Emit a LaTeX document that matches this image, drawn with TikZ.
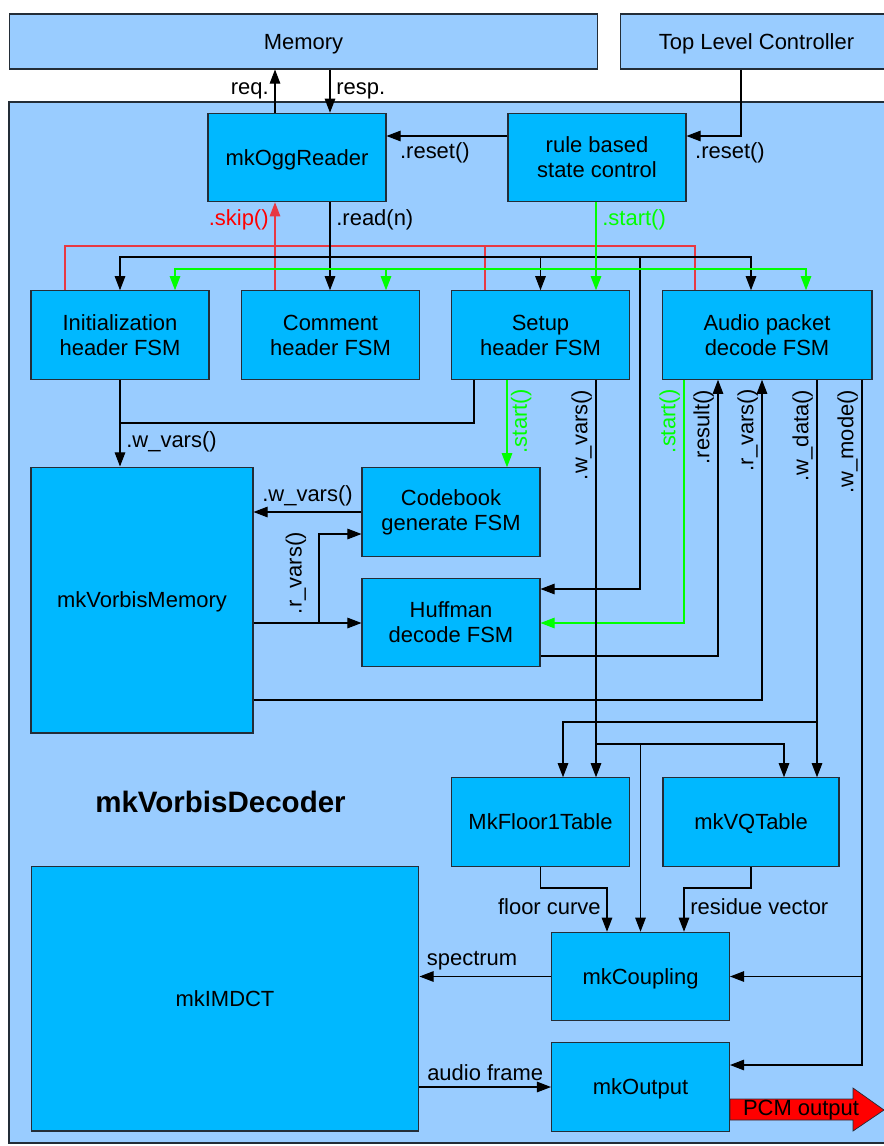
\documentclass[tikz,border=0pt]{standalone}
\usepackage{fontspec}
\setmainfont{Liberation Sans}
\usetikzlibrary{arrows.meta}

\definecolor{outerblue}{RGB}{153,204,255}
\definecolor{fsmblue}{RGB}{0,184,255}
\definecolor{skipred}{RGB}{232,56,66}
\definecolor{startgreen}{RGB}{0,255,0}
\definecolor{edge}{RGB}{35,45,55}
\definecolor{pcmred}{RGB}{255,0,0}

\begin{document}
\begin{tikzpicture}[x=0.02cm, y=-0.02cm,
    font=\fontsize{12.5}{14.2}\selectfont,
    blk/.style={draw=edge, fill=fsmblue, line width=0.6pt, align=center, inner sep=0pt},
    fsm/.style={blk, minimum width=3.56cm, minimum height=1.77cm},
    oneline/.style={text depth=0pt},
    wire/.style={line width=0.6pt},
    arr/.style={wire, -{Triangle[length=8pt,width=6pt]}},
    skipline/.style={skipred, line width=0.6pt},
    startline/.style={startgreen, arr},
    vlbl/.style={rotate=90, anchor=south east, inner sep=2pt}]

    % Page and decoder frame
    \useasboundingbox (0,0) rectangle (884,1146);
    \fill[white] (0,0) rectangle (884,1146);
    \draw[edge, fill=outerblue, line width=0.6pt] (9,102) rectangle (894,1143);

    % Blocks outside the decoder
    \node[blk, oneline, fill=outerblue, minimum width=11.78cm, minimum height=1.1cm] (mem) at (303.5,41.5) {Memory};
    \node[blk, oneline, fill=outerblue, minimum width=5.46cm, minimum height=1.1cm] (tlc) at (756.5,41.5) {Top Level Controller};

    % Reader and control
    \node[fsm, oneline] (ogg) at (297,157.5) {mkOggReader};
    \node[fsm] (rule) at (597,157.5) {rule based\\state control};

    % Header and packet FSMs
    \node[fsm] (init) at (120,335) {Initialization\\header FSM};
    \node[fsm] (comment) at (330.5,335) {Comment\\header FSM};
    \node[fsm] (setup) at (540.5,335) {Setup\\header FSM};
    \node[fsm, minimum width=4.2cm] (audio) at (767,335) {Audio packet\\decode FSM};

    % Memory and helper FSMs
    \node[blk, oneline, minimum width=4.44cm, minimum height=5.32cm] (vmem) at (142,600) {mkVorbisMemory};
    \node[fsm] (codebook) at (451,512) {Codebook\\generate FSM};
    \node[fsm] (huffman) at (451,622.5) {Huffman\\decode FSM};

    % Synthesis chain
    \node[fsm, oneline] (floor) at (540.5,822) {MkFloor1Table};
    \node[fsm, oneline, minimum width=3.52cm] (vq) at (751,822) {mkVQTable};
    \node[fsm, oneline] (coupling) at (640.5,976.5) {mkCoupling};
    \node[fsm, oneline] (output) at (640.5,1087) {mkOutput};
    \node[blk, oneline, minimum width=7.76cm, minimum height=5.3cm] (imdct) at (225,998.5) {mkIMDCT};

    \node[font=\fontsize{16.8}{19}\selectfont\bfseries] (title) at (220.5,802) {mkVorbisDecoder};

    % Memory port
    \draw[arr] (ogg.north -| 275,0) -- (mem.south -| 275,0) node[midway, left] (reqlbl) {req.};
    \draw[arr] (mem.south -| 330,0) -- (ogg.north -| 330,0) node[midway, right] (resplbl) {resp.};

    % Resets
    \draw[arr] (tlc.south -| 741,0) |- (rule.east |- 0,136) node[pos=0.5, below, xshift=-0.22cm] (tlcreset) {.reset()};
    \draw[arr] (rule.west |- 0,136) -- (ogg.east |- 0,136) node[pos=0.6, below] (oggreset) {.reset()};

    % skip() bus
    \draw[skipline] (init.north -| 65,0) |- (695,246) -- (audio.north -| 695,0);
    \draw[skipline] (setup.north -| 485,0) -- (485,246);
    \draw[skipline, arr] (comment.north -| 275,0) -- (ogg.south -| 275,0) node[pos=0.8, left, red] (skiplbl) {.skip()};

    % read(n) bus
    \coordinate (rd) at (330,257);
    \draw[arr] (ogg.south -| 330,0) -- (comment.north -| 330,0) node[pos=0.2, right] (readlbl) {.read(n)};
    \draw[arr] (rd) -| (init.north);
    \draw[arr] (rd) -| (setup.north);
    \draw[arr] (rd) -| (audio.north -| 751,0);
    \draw[arr] (rd) -| (640,589) -- (huffman.east |- 0,589);

    % start() bus
    \coordinate (st) at (596,269);
    \draw[startline] (rule.south -| 596,0) -- (setup.north -| 596,0) node[pos=0.2, right] (startlbl) {.start()};
    \draw[startline] (st) -| (init.north -| 175,0);
    \draw[startline] (st) -| (comment.north -| 386,0);
    \draw[startline] (st) -| (audio.north -| 806,0);

    % Header results into memory
    \draw[arr] (init.south) -- (vmem.north -| init.south) node[pos=0.72, right] (initw) {.w\_vars()};
    \draw[wire] (setup.south -| 474,0) |- (init.south |- 0,423);

    % Codebook and Huffman
    \draw[startline] (setup.south -| 507,0) -- (codebook.north -| 507,0)
        node[pos=0.067, rotate=90, anchor=north east, inner sep=2pt] (cbstart) {.start()};
    \draw[arr] (codebook.west |- 0,512) -- (vmem.east |- 0,512) node[midway, above] (cbw) {.w\_vars()};
    \draw[arr] (vmem.east |- 0,623) -- (huffman.west |- 0,623);
    \draw[arr] (319,623) |- (codebook.west |- 0,534)
        node[pos=0.28, rotate=90, anchor=south, inner xsep=1pt, inner ysep=7pt] (cbr) {.r\_vars()};

    % Audio packet decoder ports
    \draw[startline] (audio.south -| 684,0) |- (huffman.east |- 0,623) node[pos=0.012, vlbl] (hstart) {.start()};
    \draw[arr] (huffman.east |- 0,656) -| (audio.south -| 718,0) node[pos=0.989, vlbl] (hres) {.result()};
    \draw[arr] (vmem.east |- 0,700) -| (audio.south -| 762,0) node[pos=0.991, vlbl] (ar) {.r\_vars()};
    \draw[arr] (audio.south -| 817,0) -- (vq.north -| 817,0) node[pos=0.015, vlbl] (awd) {.w\_data()};
    \coordinate (wd) at (817,722);
    \draw[arr] (wd) -| (floor.north -| 563,0);
    \draw[arr] (audio.south -| 862,0) |- (output.east |- 0,1065) node[pos=0.0044, vlbl] (awm) {.w\_mode()};
    \draw[arr] (coupling.east -| 862,0) -- (coupling.east);

    % Setup variables to the tables
    \draw[arr] (setup.south -| 596,0) -- (floor.north -| 596,0) node[pos=0.015, vlbl] (sw) {.w\_vars()};
    \coordinate (wv) at (596,744);
    \draw[arr] (wv) -| (vq.north -| 784,0);
    \draw[arr] (wv -| coupling.north) -- (coupling.north);

    % Tables into coupling
    \draw[arr] (floor.south) |- (607,888) -- (coupling.north -| 607,0) node[pos=0.43, left] (fc) {floor curve};
    \draw[arr] (vq.south) |- (684,888) -- (coupling.north -| 684,0) node[pos=0.43, right] (rv) {residue vector};

    % IMDCT loop
    \draw[arr] (coupling.west) -- (imdct.east |- coupling.west) node[pos=0.6, above] (spec) {spectrum};
    \draw[arr] (imdct.east |- output.west) -- (output.west) node[midway, above] (af) {audio frame};

    % PCM output
    \fill[pcmred, draw=edge, line width=0.4pt] (output.east |- 0,1099) -- (853,1099) -- (853,1088) -- (884,1110)
        -- (853,1131) -- (853,1120) -- (output.east |- 0,1120) -- cycle;
    \node (pcm) at (801,1110) {PCM output};
\end{tikzpicture}
\end{document}
